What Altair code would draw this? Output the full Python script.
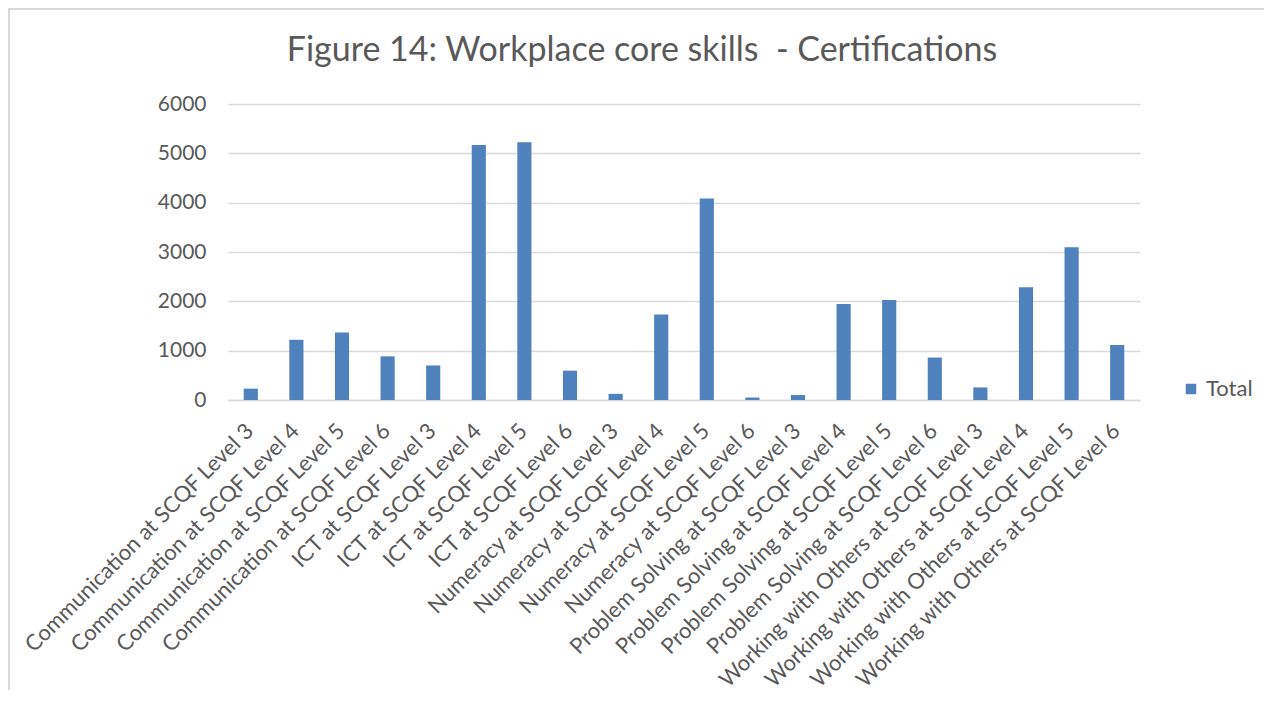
import altair as alt
import pandas as pd

categories = [
    "Communication at SCQF Level 3", "Communication at SCQF Level 4",
    "Communication at SCQF Level 5", "Communication at SCQF Level 6",
    "ICT at SCQF Level 3", "ICT at SCQF Level 4", "ICT at SCQF Level 5",
    "ICT at SCQF Level 6", "Numeracy at SCQF Level 3", "Numeracy at SCQF Level 4",
    "Numeracy at SCQF Level 5", "Numeracy at SCQF Level 6",
    "Problem Solving at SCQF Level 3", "Problem Solving at SCQF Level 4",
    "Problem Solving at SCQF Level 5", "Problem Solving at SCQF Level 6",
    "Working with Others at SCQF Level 3", "Working with Others at SCQF Level 4",
    "Working with Others at SCQF Level 5", "Working with Others at SCQF Level 6",
]
totals = [230, 1220, 1370, 885, 700, 5170, 5225, 595, 125, 1735,
          4085, 50, 100, 1945, 2025, 860, 255, 2285, 3095, 1115]
y_ticks = [0, 1000, 2000, 3000, 4000, 5000, 6000]
title_text = "Figure 14: Workplace core skills\u00a0 - Certifications"

df = pd.DataFrame({"category": categories, "value": totals, "series": ["Total"] * len(categories)})

FONT = "Lato"
GREY = "#595959"
BLUE = "#4f81bd"

bars = alt.Chart(df).mark_bar(color=BLUE).encode(
    x=alt.X("category:N", sort=categories, title=None,
            scale=alt.Scale(paddingInner=0.69, paddingOuter=0.345),
            axis=alt.Axis(labelAngle=-45, labelFontSize=22, labelFont=FONT,
                          labelColor=GREY, ticks=False, labelPadding=20,
                          labelOffset=-8,
                          domainColor="#d9d9d9", domainWidth=1.5,
                          labelLimit=500, labelOverlap=False)),
    y=alt.Y("value:Q", title=None,
            scale=alt.Scale(domain=[0, 6000], nice=False),
            axis=alt.Axis(values=y_ticks, format="d", labelFontSize=21, labelFont=FONT,
                          labelColor=GREY, ticks=False, domain=False,
                          labelPadding=22, gridColor="#d9d9d9", gridWidth=1.5)),
    color=alt.Color("series:N", scale=alt.Scale(range=[BLUE]),
                    legend=alt.Legend(title=None, orient="none", legendX=952, legendY=274,
                                      symbolType="square", symbolSize=110,
                                      symbolStrokeWidth=0,
                                      labelFont=FONT, labelFontSize=22,
                                      labelColor=GREY)),
)

frame = alt.Chart(df).mark_rect(fill=None, stroke="#d9d9d9", strokeWidth=1.5).encode(
    x=alt.value(-219), x2=alt.value(1046), y=alt.value(-95), y2=alt.value(700)
)

chart = alt.layer(bars, frame).properties(
    width=912, height=296,
    padding={"left": 220, "top": 96, "right": 124, "bottom": 290},
    autosize=alt.AutoSizeParams(type="none"),
    title=alt.TitleParams(title_text,
                          font=FONT, fontSize=34, fontWeight="normal", color=GREY,
                          anchor="middle", frame="group", dx=-42, offset=-60),
).configure_view(stroke=None)

chart.save("out.html", embed_options={"renderer": "svg", "actions": False})
